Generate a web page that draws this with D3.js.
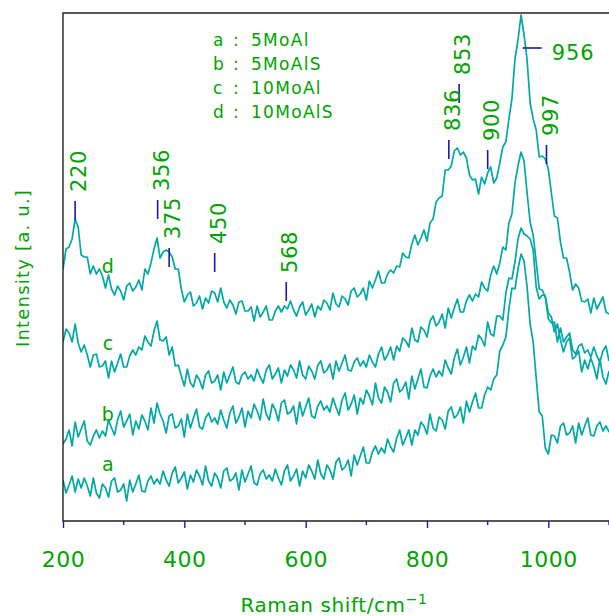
<!DOCTYPE html>
<html>
<head>
<meta charset="utf-8">
<script src="https://cdn.jsdelivr.net/npm/d3@7"></script>
<style>
  body { margin: 0; background: #fff; }
  svg { display: block; }
</style>
</head>
<body>
<script>
// Raman spectra of four Mo/Al samples, stacked with vertical offsets.
// Intensities are in arbitrary units (offset already included),
// sampled every 5 cm-1 from 200 to 1100 cm-1.

const sampleKeys = ["a", "b", "c", "d"];
const sampleNames = ["5MoAl", "5MoAlS", "10MoAl", "10MoAlS"];
const shiftStart = 200, shiftEnd = 1100, shiftStep = 5;

const specA = [
  41,28,36,45,29,42,33,43,35,25,43,28,23,37,33,24,40,43,29,31,
  37,20,41,29,37,46,30,29,40,45,37,42,37,50,41,35,48,54,38,43,
  49,32,46,39,51,45,36,55,40,35,48,43,33,50,53,40,42,48,31,51,
  39,47,55,38,36,47,51,42,46,40,52,43,36,50,56,40,45,52,35,50,
  43,56,50,42,61,47,42,56,51,42,59,63,51,54,61,45,66,56,65,74,
  58,58,69,75,67,73,68,82,74,69,83,91,76,83,91,76,91,86,99,95,
  87,107,93,90,104,101,92,110,114,103,106,114,98,120,109,119,128,113,113,126,
  134,131,142,146,170,176,184,212,233,232,252,267,260,234,197,179,143,109,105,73,
  67,86,85,78,95,98,86,88,95,78,98,86,95,103,86,85,95,99,90,95,
  89
];

const specB = [
  77,82,91,75,99,84,92,100,80,76,85,91,83,90,85,101,93,86,101,110,
  94,100,107,86,100,92,106,100,91,113,98,118,107,100,88,105,107,93,95,102,
  84,107,93,103,112,94,92,103,108,99,103,97,111,101,93,108,115,98,104,113,
  94,110,103,117,110,101,122,107,101,117,111,100,118,121,107,109,115,97,119,105,
  114,123,105,103,115,120,111,115,109,123,114,106,121,128,111,117,126,107,123,117,
  131,125,116,138,123,118,134,129,119,138,142,129,132,139,122,145,132,142,152,134,
  133,145,152,144,150,145,161,153,147,163,172,156,164,174,158,175,171,186,182,175,
  199,187,185,205,205,201,228,243,242,259,282,293,287,285,282,271,234,222,226,225,
  208,204,189,197,181,169,179,183,162,165,170,149,161,152,163,154,142,162,144,137,
  150
];

const specC = [
  179,192,188,179,197,178,169,176,166,154,166,167,154,155,160,143,160,149,158,167,
  154,154,165,171,166,174,171,185,179,175,190,200,181,180,184,166,174,155,156,145,
  135,152,138,134,146,141,132,146,150,138,140,146,131,149,138,146,154,139,137,146,
  149,142,146,140,152,144,138,151,156,142,147,153,138,151,145,156,151,143,160,146,
  142,155,150,142,156,160,148,151,157,142,160,150,158,166,151,150,159,163,155,160,
  154,166,159,154,167,174,161,166,174,161,175,170,183,180,174,193,181,179,194,191,
  184,200,205,195,199,207,193,213,203,213,222,209,209,220,226,220,227,224,239,233,
  230,246,255,247,258,274,271,298,307,338,355,369,360,328,299,286,259,232,231,224,
  202,198,199,179,193,179,184,188,171,167,175,177,168,171,164,174,165,159,170,175,
  160
];

const specD = [
  252,272,274,282,302,294,266,264,264,247,255,247,252,245,233,246,232,226,235,230,
  221,235,238,230,234,241,231,252,247,258,272,283,263,269,271,269,264,252,252,232,
  219,226,229,215,218,225,212,223,218,230,228,219,233,219,213,221,216,207,219,220,
  210,210,214,200,215,204,209,215,201,201,210,215,209,215,212,220,211,205,214,219,
  206,211,217,204,215,211,221,218,211,228,217,214,225,222,216,230,233,224,227,233,
  221,240,233,241,250,238,238,247,251,248,255,254,268,264,263,277,286,276,283,291,
  280,298,302,319,323,325,351,351,355,370,373,366,369,363,346,341,342,327,344,337,
  348,354,338,343,358,374,379,402,422,462,481,506,486,461,418,402,391,364,365,362,
  352,328,305,303,279,263,263,249,231,237,233,220,219,222,208,223,212,218,224,209,
  207
];

// Letter beside each trace: [cm-1, intensity]
const curveLabelPos = { a: [274, 50], b: [274, 100], c: [274, 171], d: [274, 248] };

// Assigned bands: marker top given in intensity units
const bands = [
  { wn: 220, top: 320 },
  { wn: 356, top: 321 },
  { wn: 375, top: 273 },
  { wn: 450, top: 268 },
  { wn: 568, top: 239 },
  { wn: 836, top: 381 },
  { wn: 853, top: 437 },
  { wn: 900, top: 371 },
  { wn: 997, top: 376 }
];
const mainBand = { wn: 956, level: 473 };

const xTickValues = [200, 400, 600, 800, 1000];
const xMinorTicks = [300, 500, 700, 900, 1100];

const W = 609, H = 616;
const plot = { left: 63, top: 13, right: 609, bottom: 521 };
const green = "#00a400";
const teal = "#00a8a8";
const blue = "#1a1aa8";
const font = "'DejaVu Sans', sans-serif";

const x = d3.scaleLinear().domain([shiftStart, shiftEnd]).range([plot.left, plot.right]);
const y = d3.scaleLinear().domain([0, 508]).range([plot.bottom, plot.top]);

const svg = d3.select("body").append("svg")
  .attr("width", W).attr("height", H);

svg.append("defs").append("clipPath").attr("id", "plotclip")
  .append("rect")
  .attr("x", plot.left).attr("y", plot.top - 2)
  .attr("width", plot.right - plot.left + 2)
  .attr("height", plot.bottom - plot.top + 2);

// Traces
const traces = [specA, specB, specC, specD];
const line = d3.line()
  .x((d, i) => x(shiftStart + i * shiftStep))
  .y(d => y(d));
svg.append("g").attr("clip-path", "url(#plotclip)")
  .selectAll("path").data(traces).join("path")
  .attr("d", line)
  .attr("fill", "none")
  .attr("stroke", teal)
  .attr("stroke-width", 1.7)
  .attr("stroke-linejoin", "round");

// Frame
svg.append("path")
  .attr("d", `M${plot.right + 1},${plot.top}H${plot.left}V${plot.bottom}H${plot.right + 1}`)
  .attr("fill", "none")
  .attr("stroke", "#222")
  .attr("stroke-width", 1.4);

// Bottom axis
const axis = svg.append("g").attr("transform", `translate(0,${plot.bottom})`);
axis.call(d3.axisBottom(x).tickValues(xTickValues).tickSize(7).tickPadding(23).tickFormat(d3.format("d")))
  .call(g => g.select(".domain").remove())
  .call(g => g.selectAll(".tick line").attr("stroke", blue).attr("stroke-width", 1.4))
  .call(g => g.selectAll(".tick text")
    .attr("fill", green).attr("font-family", font).attr("font-size", 22)
    .attr("letter-spacing", 0.5));
axis.selectAll(".minor").data(xMinorTicks).join("line")
  .attr("class", "minor")
  .attr("x1", d => x(d)).attr("x2", d => x(d))
  .attr("y1", 0).attr("y2", 4)
  .attr("stroke", blue).attr("stroke-width", 1.4);

// Axis titles
const xt = svg.append("text")
  .attr("x", 334).attr("y", 612)
  .attr("text-anchor", "middle")
  .attr("fill", green).attr("font-family", font).attr("font-size", 20)
  .attr("letter-spacing", 0.6);
xt.append("tspan").text("Raman shift/cm");
xt.append("tspan").attr("dy", -8).attr("font-size", 14).text("\u22121");

svg.append("text")
  .attr("transform", "translate(29,268) rotate(-90)")
  .attr("text-anchor", "middle")
  .attr("fill", green).attr("font-family", font).attr("font-size", 18)
  .attr("letter-spacing", 1.2)
  .text("Intensity [a. u.]");

// Legend
const legend = svg.append("g").attr("font-family", font).attr("font-size", 17)
  .attr("fill", green).attr("letter-spacing", 1.3);
sampleKeys.forEach((k, i) => {
  const yy = 46 + i * 24;
  legend.append("text").attr("x", 213).attr("y", yy).text(k);
  legend.append("text").attr("x", 233).attr("y", yy).text(":");
  legend.append("text").attr("x", 251).attr("y", yy).text(sampleNames[i]);
});

// Curve letters
svg.append("g").selectAll("text").data(sampleKeys).join("text")
  .attr("x", k => x(curveLabelPos[k][0]))
  .attr("y", k => y(curveLabelPos[k][1]))
  .attr("text-anchor", "middle")
  .attr("fill", green).attr("font-family", font).attr("font-size", 19)
  .text(k => k);

// Band markers and labels
const markLen = 19;
const bg = svg.append("g");
bg.selectAll("line").data(bands).join("line")
  .attr("x1", d => x(d.wn)).attr("x2", d => x(d.wn))
  .attr("y1", d => y(d.top)).attr("y2", d => y(d.top) + markLen)
  .attr("stroke", blue).attr("stroke-width", 1.6);
bg.selectAll("text").data(bands).join("text")
  .attr("transform", d => `translate(${x(d.wn) + 11},${y(d.top) - 9}) rotate(-90)`)
  .attr("fill", green).attr("font-family", font).attr("font-size", 21)
  .attr("letter-spacing", 0.6)
  .text(d => d.wn);

bg.append("line")
  .attr("x1", x(mainBand.wn) + 1).attr("x2", x(mainBand.wn) + 20)
  .attr("y1", y(mainBand.level)).attr("y2", y(mainBand.level))
  .attr("stroke", blue).attr("stroke-width", 1.6);
bg.append("text")
  .attr("x", x(mainBand.wn) + 30).attr("y", y(mainBand.level) + 11.5)
  .attr("fill", green).attr("font-family", font).attr("font-size", 21)
  .attr("letter-spacing", 1)
  .text(mainBand.wn);
</script>
</body>
</html>
